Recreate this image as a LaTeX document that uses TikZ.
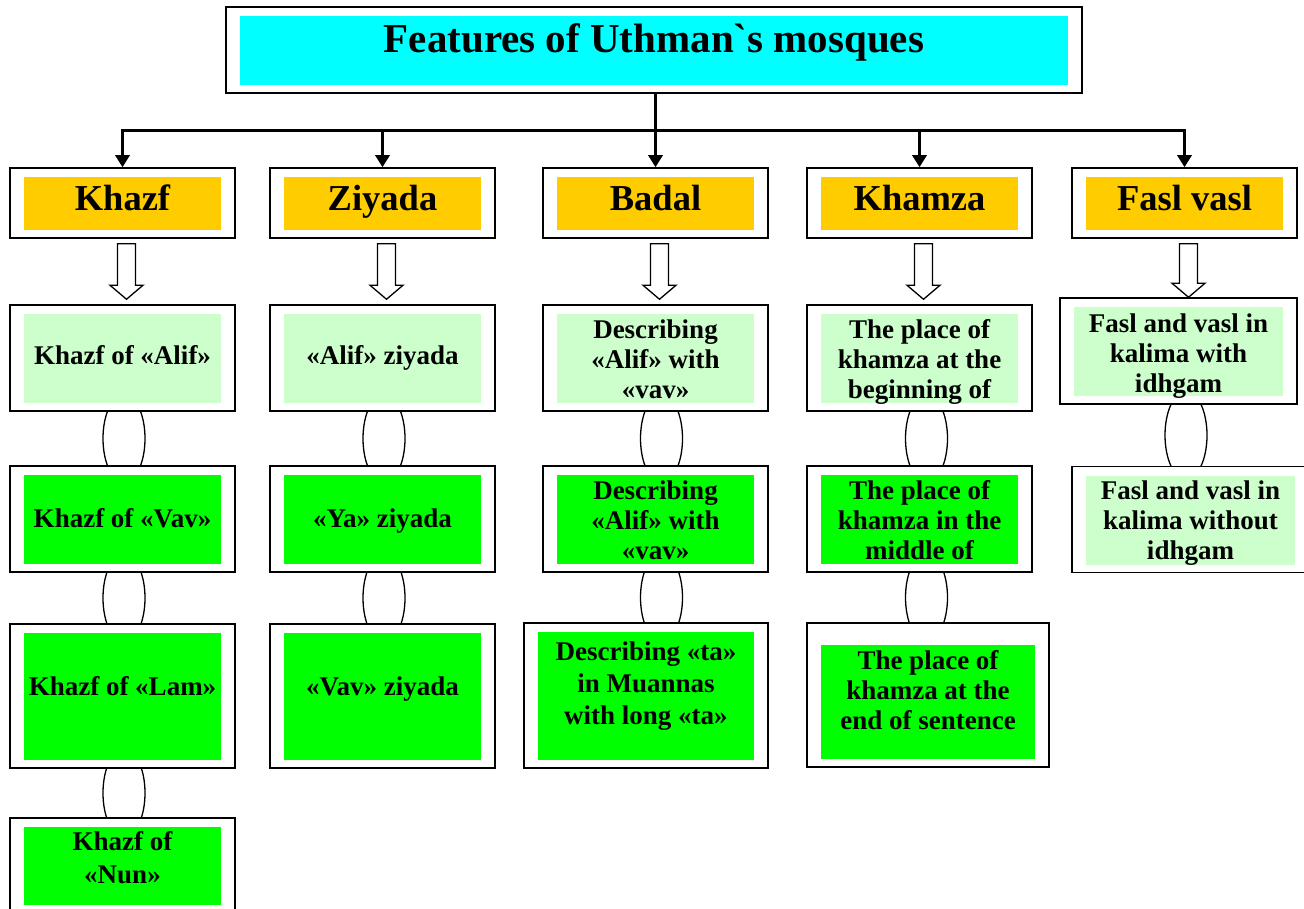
\documentclass[tikz,border=0pt]{standalone}
\usepackage{fontspec}
\setmainfont{Liberation Serif}[Ligatures=TeXOff]
\usetikzlibrary{arrows.meta,calc,backgrounds}

\definecolor{titlecyan}{RGB}{0,255,255}
\definecolor{headorange}{RGB}{255,204,0}
\definecolor{palegreen}{RGB}{204,255,204}
\definecolor{brightgreen}{RGB}{0,255,0}

\tikzset{
  frame top/.store in=\frametop, frame top=9pt,
  frame/.style={draw, fill=white, line width=1.5pt, inner sep=0pt,
    path picture={\fill[#1] ($(path picture bounding box.north west)+(14pt,-\frametop)$)
      rectangle ($(path picture bounding box.south east)+(-14pt,8pt)$);}},
  titletext/.style={font=\bfseries\fontsize{41}{46}\selectfont, inner sep=0pt, anchor=base},
  head/.style={font=\bfseries\fontsize{36.5}{40}\selectfont, inner sep=0pt, anchor=base},
  body/.style={font=\bfseries\fontsize{27}{30}\selectfont, align=center, inner sep=0pt},
  tree/.style={line width=3pt, -{Triangle[length=12pt,width=14pt]}},
  link/.style={line width=1.3pt}
}

% hollow block arrow from a header down to its first box
\newcommand\hollowarrow[3][5]{%
  \coordinate (ha top) at ($(#2.south)+(4,5)$);
  \coordinate (ha tip) at ($(ha top |- #3.north)+(0,-#1)$);
  \draw[line width=1.3pt, fill=white] ($(ha top)+(-9,0)$) -- ($(ha top)+(9,0)$)
    -- ($(ha tip)+(9,-14)$) -- ($(ha tip)+(16.5,-14)$) -- (ha tip)
    -- ($(ha tip)+(-16.5,-14)$) -- ($(ha tip)+(-9,-14)$) -- cycle;}

\begin{document}
\begin{tikzpicture}[x=1pt, y=-1pt]
\useasboundingbox (0,0) rectangle (1304,909);

% title
\node[frame=titlecyan, minimum width=856, minimum height=86] (title) at (654,50) {};
\node[titletext] (titlet) at ($(title)+(0,3)$) {Features of Uthman`s mosques};

% headers
\node[frame=headorange, minimum width=225, minimum height=70] (khazf) at (122.5,203) {};
\node[frame=headorange, minimum width=225, minimum height=70] (ziyada) at (382.5,203) {};
\node[frame=headorange, minimum width=225, minimum height=70] (badal) at (655.5,203) {};
\node[frame=headorange, minimum width=225, minimum height=70] (khamza) at (919.5,203) {};
\node[frame=headorange, minimum width=225, minimum height=70] (fasl) at (1184.5,203) {};
\node[head] (khazft) at ($(khazf)+(0,8)$) {Khazf};
\node[head] (ziyadat) at ($(ziyada)+(0,8)$) {Ziyada};
\node[head] (badalt) at ($(badal)+(0,8)$) {Badal};
\node[head] (khamzat) at ($(khamza)+(0,8)$) {Khamza};
\node[head] (faslt) at ($(fasl)+(0,8)$) {Fasl vasl};

% tree
\coordinate (bus) at (0,131);
\draw[tree] (badal.north |- title.south) -- (badal.north);
\draw[tree] (badal.north |- bus) -| (khazf.north);
\draw[tree] (badal.north |- bus) -| (fasl.north);
\draw[tree] (ziyada.north |- bus) -- (ziyada.north);
\draw[tree] (khamza.north |- bus) -- (khamza.north);

% second row
\node[frame=palegreen, minimum width=225, minimum height=106] (khz2) at (122.5,358) {};
\node[frame=palegreen, minimum width=225, minimum height=106] (ziy2) at (382.5,358) {};
\node[frame=palegreen, minimum width=225, minimum height=106] (bad2) at (655.5,358) {};
\node[frame=palegreen, minimum width=225, minimum height=106] (kha2) at (919.5,358) {};
\node[frame=palegreen, minimum width=237, minimum height=106] (fas2) at (1178.5,351) {};
\node[body, anchor=base] (khz2t) at ($(khz2)+(0,6)$) {Khazf of «Alif»};
\node[body, anchor=base] (ziy2t) at ($(ziy2)+(0,6)$) {«Alif» ziyada};
\node[body] (bad2t) at ($(bad2)+(0,1)$) {Describing\\«Alif» with\\«vav»};
\node[body] (kha2t) at ($(kha2)+(0,4)$) {The place of\\khamza at the\\beginning of};
\node[body] (fas2t) at ($(fas2)+(0,5)$) {Fasl and vasl in\\kalima with\\idhgam};

% third row
\node[frame=brightgreen, minimum width=225, minimum height=106] (khz3) at (122.5,519) {};
\node[frame=brightgreen, minimum width=225, minimum height=106] (ziy3) at (382.5,519) {};
\node[frame=brightgreen, minimum width=225, minimum height=106] (bad3) at (655.5,519) {};
\node[frame=brightgreen, minimum width=225, minimum height=106] (kha3) at (919.5,519) {};
\node[frame=palegreen, minimum width=237, minimum height=106] (fas3) at (1190.5,519.5) {};
\node[body, anchor=base] (khz3t) at ($(khz3)+(0,8)$) {Khazf of «Vav»};
\node[body, anchor=base] (ziy3t) at ($(ziy3)+(0,8)$) {«Ya» ziyada};
\node[body] (bad3t) at ($(bad3)+(0,1.5)$) {Describing\\«Alif» with\\«vav»};
\node[body] (kha3t) at ($(kha3)+(0,1.5)$) {The place of\\khamza in the\\middle of};
\node[body] (fas3t) at ($(fas3)+(0,4)$) {Fasl and vasl in\\kalima without\\idhgam};

% fourth row
\node[frame=brightgreen, minimum width=225, minimum height=144] (khz4) at (122.5,696) {};
\node[frame=brightgreen, minimum width=225, minimum height=144] (ziy4) at (382.5,696) {};
\node[frame=brightgreen, minimum width=244, minimum height=145] (bad4) at (646,695.5) {};
\node[frame=brightgreen, frame top=22pt, minimum width=242, minimum height=144] (kha4) at (928,695) {};
\node[body, anchor=base] (khz4t) at ($(khz4)+(0,-1)$) {Khazf of «Lam»};
\node[body, anchor=base] (ziy4t) at ($(ziy4)+(0,-1)$) {«Vav» ziyada};
\node[body, font=\bfseries\fontsize{27}{32}\selectfont] (bad4t) at ($(bad4)+(0,-9)$) {Describing «ta»\\in Muannas\\with long «ta»};
\node[body] (kha4t) at ($(kha4)+(0,-4.5)$) {The place of\\khamza at the\\end of sentence};

% fifth row
\node[frame=brightgreen, minimum width=225, minimum height=95] (khz5) at (122.5,865.5) {};
\node[body, font=\bfseries\fontsize{27}{33}\selectfont] (khz5t) at ($(khz5)+(0,-8)$) {Khazf of\\«Nun»};

% block arrows
\hollowarrow{khazf}{khz2}
\hollowarrow{ziyada}{ziy2}
\hollowarrow{badal}{bad2}
\hollowarrow{khamza}{kha2}
\hollowarrow[0]{fasl}{fas2}

% chain links
\begin{scope}[on background layer]
\draw[link] ($(khz2.south)!.5!(khz3.north)+(1.5,0)$) ellipse [x radius=21, y radius=44];
\draw[link] ($(khz3.south)!.5!(khz4.north)+(1.5,0)$) ellipse [x radius=21, y radius=44];
\draw[link] ($(khz4.south)!.5!(khz5.north)+(1.5,0)$) ellipse [x radius=21, y radius=44];
\draw[link] ($(ziy2.south)!.5!(ziy3.north)+(1.5,0)$) ellipse [x radius=21, y radius=44];
\draw[link] ($(ziy3.south)!.5!(ziy4.north)+(1.5,0)$) ellipse [x radius=21, y radius=44];
\draw[link] ($(bad2.south)!.5!(bad3.north)+(6,0)$) ellipse [x radius=21, y radius=44];
\draw[link] ($(bad3.south)!.5!(bad4.north)+(10.75,0)$) ellipse [x radius=21, y radius=44];
\draw[link] ($(kha2.south)!.5!(kha3.north)+(7,0)$) ellipse [x radius=21, y radius=44];
\draw[link] ($(kha3.south)!.5!(kha4.north)+(2.75,0)$) ellipse [x radius=21, y radius=44];
\draw[link] ($(fas2.south)!.5!(fas3.north)+(1.5,0)$) ellipse [x radius=21, y radius=44];
\end{scope}
\end{tikzpicture}
\end{document}
